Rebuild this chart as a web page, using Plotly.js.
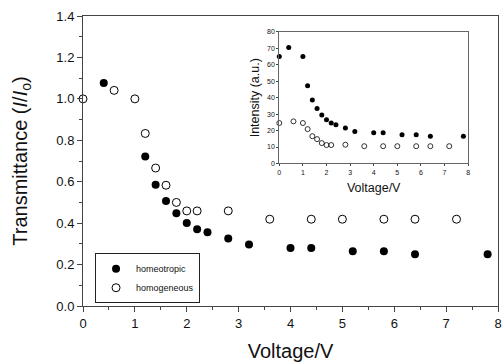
<!DOCTYPE html>
<html>
<head>
<meta charset="utf-8">
<script src="https://cdn.plot.ly/plotly-3.0.1.min.js"></script>
<style>html,body{margin:0;padding:0;background:#fff;}#chart{width:502px;height:362px;}</style>
</head>
<body>
<div id="chart"></div>
<script>
// Main plot: transmittance
const homeotropicV = [0.4, 1.2, 1.4, 1.6, 1.8, 2.0, 2.2, 2.4, 2.8, 3.2, 4.0, 4.4, 5.2, 5.8, 6.4, 7.8];
const homeotropicT = [1.076, 0.722, 0.585, 0.507, 0.448, 0.401, 0.370, 0.356, 0.326, 0.297, 0.280, 0.280, 0.264, 0.264, 0.250, 0.250];
const homogeneousV = [0, 0.6, 1.0, 1.2, 1.4, 1.6, 1.8, 2.0, 2.2, 2.8, 3.6, 4.4, 5.0, 5.8, 6.4, 7.2];
const homogeneousT = [1.0, 1.041, 1.0, 0.833, 0.666, 0.583, 0.500, 0.459, 0.459, 0.459, 0.419, 0.419, 0.419, 0.419, 0.419, 0.419];

// Inset: intensity
const insetHomeotropicV = [0, 0.4, 1.0, 1.2, 1.4, 1.6, 1.8, 2.0, 2.2, 2.4, 2.8, 3.2, 4.0, 4.4, 5.2, 5.8, 6.4, 7.8];
const insetHomeotropicI = [65, 70.5, 65, 47.3, 38.6, 33.5, 29.5, 26.6, 24.6, 23.5, 21.5, 19.5, 18.7, 18.7, 17.5, 17.5, 16.6, 16.6];
const insetHomogeneousV = [0, 0.6, 1.0, 1.2, 1.4, 1.6, 1.8, 2.0, 2.2, 2.8, 3.6, 4.4, 5.0, 5.8, 6.4, 7.2];
const insetHomogeneousI = [24.6, 25.6, 24.6, 20.9, 16.6, 14.8, 12.4, 11.2, 11.2, 11.4, 10.5, 10.5, 10.5, 10.5, 10.5, 10.5];

const mainTickVals = [0, 0.2, 0.4, 0.6, 0.8, 1.0, 1.2, 1.4];
const seriesNames = ['homeotropic', 'homogeneous'];

const FONT = 'Liberation Sans, Arial, sans-serif';
const filled = {symbol: 'circle', size: 8, color: '#000', line: {width: 0}};
const hollow = {symbol: 'circle-open', size: 8, color: '#000', line: {width: 1}};
const filledS = {symbol: 'circle', size: 5, color: '#000', line: {width: 0}};
const hollowS = {symbol: 'circle-open', size: 5, color: '#000', line: {width: 0.8}};

const traces = [
  {x: homeotropicV, y: homeotropicT, name: seriesNames[0], type: 'scatter', mode: 'markers', marker: filled, cliponaxis: false, xaxis: 'x', yaxis: 'y'},
  {x: homogeneousV, y: homogeneousT, name: seriesNames[1], type: 'scatter', mode: 'markers', marker: hollow, cliponaxis: false, xaxis: 'x', yaxis: 'y'},
  {x: insetHomeotropicV, y: insetHomeotropicI, type: 'scatter', mode: 'markers', marker: filledS, cliponaxis: false, showlegend: false, xaxis: 'x2', yaxis: 'y2'},
  {x: insetHomogeneousV, y: insetHomogeneousI, type: 'scatter', mode: 'markers', marker: hollowS, cliponaxis: false, showlegend: false, xaxis: 'x2', yaxis: 'y2'}
];

const axBase = {showgrid: false, zeroline: false, showline: true, mirror: true, linecolor: '#444', linewidth: 1,
  ticks: 'outside', tickcolor: '#444', tickwidth: 1};

const layout = {
  width: 502, height: 362,
  margin: {l: 83, r: 4, t: 16, b: 56},
  paper_bgcolor: '#fff', plot_bgcolor: '#fff',
  font: {family: FONT, color: '#111'},
  showlegend: true,
  legend: {x: 0.029, y: 0.182, xanchor: 'left', yanchor: 'top', bgcolor: '#fff', bordercolor: '#222', borderwidth: 1,
    font: {family: FONT, size: 9, color: '#111'}, itemwidth: 30, tracegroupgap: 0},
  xaxis: Object.assign({}, axBase, {domain: [0, 1], range: [0, 8], tickmode: 'linear', tick0: 0, dtick: 1, ticklen: 5,
    minor: {dtick: 0.5, ticklen: 3, ticks: 'outside', tickcolor: '#444'},
    tickfont: {size: 13, family: FONT},
    title: {text: 'Voltage/V', font: {size: 20, family: FONT}, standoff: 19}}),
  yaxis: Object.assign({}, axBase, {domain: [0, 1], range: [0, 1.4], tickmode: 'array', tickvals: mainTickVals, tickformat: '.1f', ticklen: 5,
    minor: {dtick: 0.1, ticklen: 3, ticks: 'outside', tickcolor: '#444'},
    tickfont: {size: 13, family: FONT},
    title: {text: 'Transmittance (<i>I</i>/<i>I</i><sub>o</sub>)', font: {size: 20, family: FONT}, standoff: 23}}),
  xaxis2: Object.assign({}, axBase, {domain: [0.473, 0.928], anchor: 'y2', range: [0, 8], tickmode: 'linear', tick0: 0, dtick: 1, ticklen: 2,
    linecolor: '#666', tickfont: {size: 7, family: FONT},
    title: {text: 'Voltage/V', font: {size: 12.5, family: FONT}, standoff: 8}}),
  yaxis2: Object.assign({}, axBase, {domain: [0.4915, 0.945], anchor: 'x2', range: [0, 80], tickmode: 'linear', tick0: 0, dtick: 10, ticklen: 2,
    linecolor: '#666', tickfont: {size: 7, family: FONT},
    title: {text: 'Intensity (a.u.)', font: {size: 12.5, family: FONT}, standoff: 4}})
};

Plotly.newPlot('chart', traces, layout, {displayModeBar: false, staticPlot: true});
</script>
</body>
</html>
